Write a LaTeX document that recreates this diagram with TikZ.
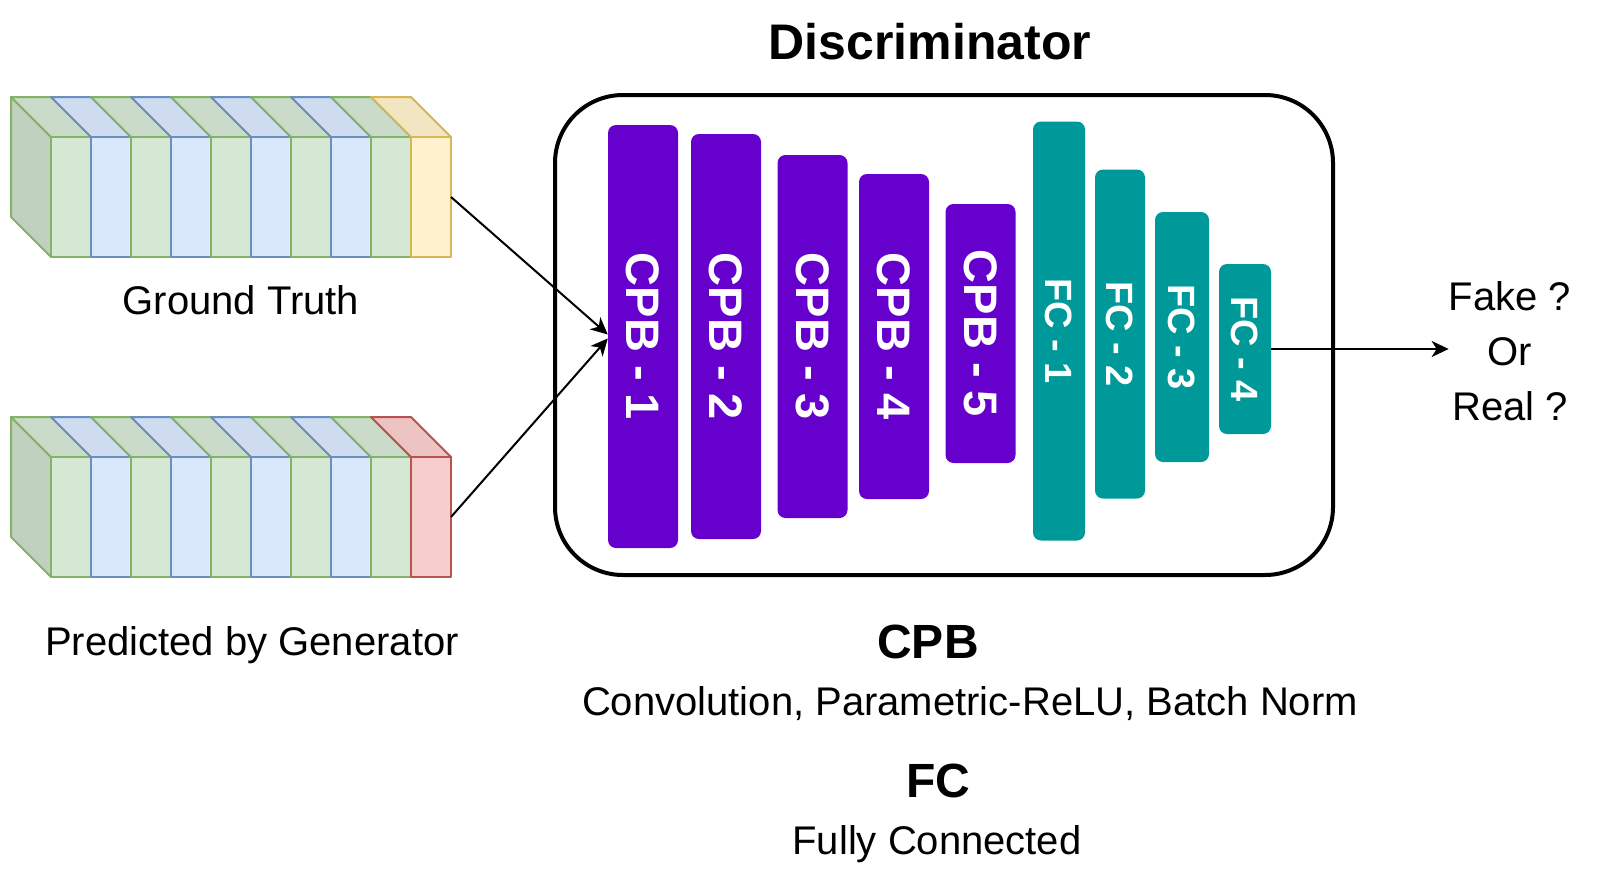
\documentclass[tikz,border=0pt]{standalone}
\usepackage{fontspec}
\setmainfont{Liberation Sans}
\usetikzlibrary{positioning, arrows.meta}

\definecolor{gfill}{HTML}{D5E8D4}\definecolor{gline}{HTML}{82B366}
\definecolor{bfill}{HTML}{DAE8FC}\definecolor{bline}{HTML}{6C8EBF}
\definecolor{yfill}{HTML}{FFF2CC}\definecolor{yline}{HTML}{D6B656}
\definecolor{rfill}{HTML}{F8CECC}\definecolor{rline}{HTML}{B85450}
\definecolor{cpbcol}{HTML}{6600CC}\definecolor{fccol}{HTML}{009999}

% one slab of an input stack: front left x, front top y, fill, line
\newcommand{\slab}[4]{%
  \filldraw[slabline, draw=#4, fill=#3!95!black] (#1-40,#2-40) -- (#1,#2-40) -- (#1+40,#2) -- (#1,#2) -- cycle;
  \filldraw[slabline, draw=#4, fill=#3] (#1,#2) rectangle (#1+40,#2+120);
}

\begin{document}
\begin{tikzpicture}[x=1pt, y=-1pt,
    slabline/.style={line width=2pt, line join=round},
    lbl/.style={font=\fontsize{40}{55}\selectfont, inner sep=0pt},
    head/.style={font=\fontsize{48}{56}\selectfont\bfseries, inner sep=0pt},
    cpb/.style={fill=cpbcol, rounded corners=8pt, minimum width=70pt, inner sep=0pt,
      text=white, font=\fontsize{47}{50}\selectfont\bfseries},
    fc/.style={fill=fccol, rounded corners=8pt, inner sep=0pt,
      text=white, font=\fontsize{38}{42}\selectfont\bfseries},
    conn/.style={line width=2pt, -{Stealth[length=17pt, width=16pt, inset=5pt]}}]
  \useasboundingbox (0,0) rectangle (1602,870);

  % input stacks
  \foreach \ty/\lf/\ll in {137/yfill/yline, 457/rfill/rline} {
    \filldraw[slabline, draw=gline, fill=gfill!90!black] (11,\ty-40) -- (51,\ty) -- (51,\ty+120) -- (11,\ty+80) -- cycle;
    \foreach \sx/\sf/\sl in {51/gfill/gline, 91/bfill/bline, 131/gfill/gline, 171/bfill/bline, 211/gfill/gline,
                             251/bfill/bline, 291/gfill/gline, 331/bfill/bline, 371/gfill/gline}
      {\slab{\sx}{\ty}{\sf}{\sl}}
    \slab{411}{\ty}{\lf}{\ll}
  }
  \coordinate (gt) at (451,197);
  \coordinate (pred) at (451,517);
  \node[lbl, anchor=base] (gtlabel) at (241,314) {Ground Truth};
  \node[lbl, anchor=base] (predlabel) at (252,655) {Predicted by Generator};

  % discriminator
  \node[draw, line width=4pt, rounded corners=68pt, minimum width=778pt, minimum height=480pt] (disc) at (944,335) {};
  \node[head, font=\fontsize{50}{56}\selectfont\bfseries, anchor=base] (title) at (930,59) {Discriminator};

  \node[cpb, minimum height=423pt] (cpb1) at (643,336.5) {\rotatebox{-90}{CPB - 1}};
  \node[cpb, minimum height=405pt] (cpb2) at (726,336.5) {\rotatebox{-90}{CPB - 2}};
  \node[cpb, minimum height=363pt] (cpb3) at (812.5,336.5) {\rotatebox{-90}{CPB - 3}};
  \node[cpb, minimum height=325pt] (cpb4) at (894,336.5) {\rotatebox{-90}{CPB - 4}};
  \node[cpb, minimum height=259pt] (cpb5) at (980.5,333.5) {\rotatebox{-90}{CPB - 5}};

  \node[fc, minimum width=52pt, minimum height=419pt] (fc1) at (1059,331) {\rotatebox{-90}{FC - 1}};
  \node[fc, minimum width=50pt, minimum height=329pt] (fc2) at (1120,334) {\rotatebox{-90}{FC - 2}};
  \node[fc, minimum width=54pt, minimum height=250pt] (fc3) at (1182,337) {\rotatebox{-90}{FC - 3}};
  \node[fc, minimum width=52pt, minimum height=170pt] (fc4) at (1245,349) {\rotatebox{-90}{FC - 4}};

  \node[lbl, align=center] (verdict) at (1510,351) {Fake ?\\Or\\Real ?};

  \draw[conn] (gt) -- ([yshift=2pt]cpb1.west);
  \draw[conn] (pred) -- ([yshift=-2pt]cpb1.west);
  \draw[conn] (fc4.east) -- (fc4.east -| verdict.west);

  % legend
  \node[head, anchor=base] (cpbhead) at (928,658) {CPB};
  \node[lbl, anchor=base] (cpbtext) at (970,715) {Convolution, Parametric-ReLU, Batch Norm};
  \node[head, anchor=base] (fchead) at (938,797) {FC};
  \node[lbl, anchor=base] (fctext) at (937,854) {Fully Connected};
\end{tikzpicture}
\end{document}
